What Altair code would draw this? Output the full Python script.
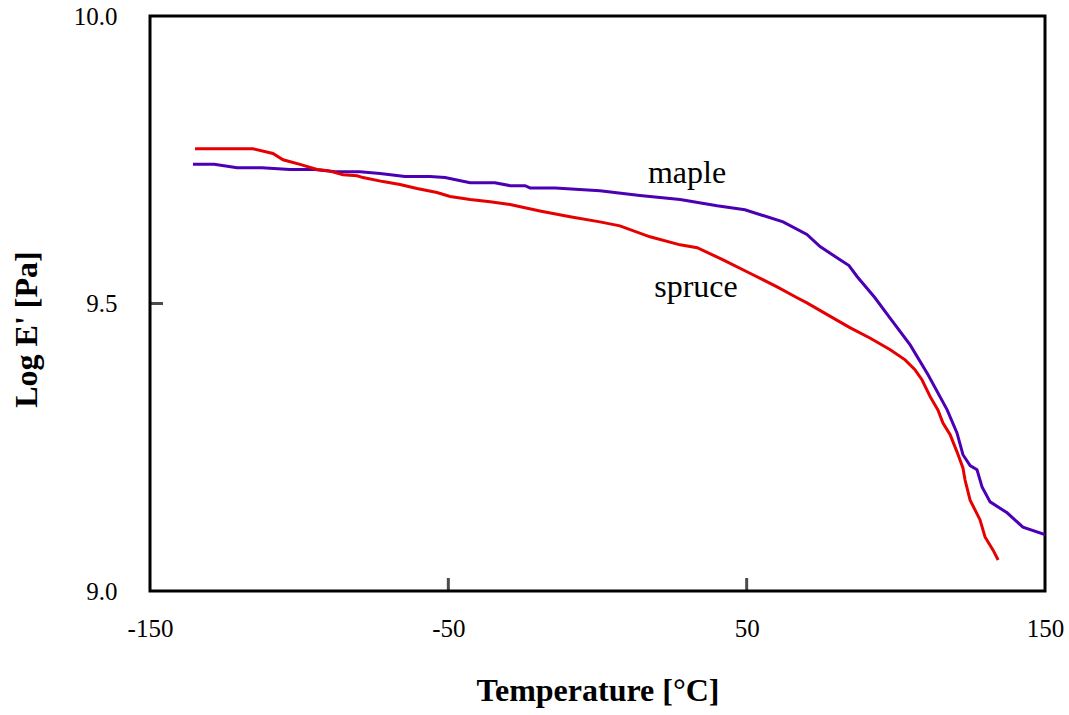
import altair as alt
import pandas as pd

# ---- data ----
maple_t = [-135.6, -128.5, -120.8, -112.5, -103.1, -94.7, -88.0, -79.6, -72.9, -64.5,
           -56.1, -51.1, -42.7, -34.4, -29.3, -24.3, -22.6, -14.2, 0.8, 14.2,
           27.7, 40.1, 49.4, 62.2, 70.2, 74.6, 81.3, 84.3, 87.0, 93.0,
           98.0, 104.8, 110.8, 117.2, 120.5, 122.5, 124.9, 127.2, 128.9, 131.6,
           137.3, 142.6, 150.0]
maple_e = [9.742, 9.742, 9.736, 9.736, 9.733, 9.733, 9.729, 9.729, 9.726, 9.721,
           9.721, 9.719, 9.710, 9.710, 9.705, 9.705, 9.701, 9.701, 9.696, 9.688,
           9.681, 9.670, 9.663, 9.642, 9.620, 9.599, 9.576, 9.566, 9.547, 9.510,
           9.475, 9.428, 9.376, 9.315, 9.275, 9.237, 9.218, 9.211, 9.181, 9.155,
           9.136, 9.111, 9.098]

spruce_t = [-134.9, -115.5, -108.8, -105.4, -99.7, -94.0, -90.3, -85.3, -80.6, -78.6,
            -71.9, -66.2, -60.5, -53.8, -49.4, -42.7, -36.0, -29.3, -19.3, -9.2,
            0.8, 7.5, 17.6, 27.7, 33.4, 42.1, 52.1, 60.2, 66.9, 70.2,
            78.9, 84.6, 91.3, 98.0, 103.1, 106.4, 108.8, 111.5, 114.1, 115.8,
            118.2, 120.5, 122.5, 123.2, 124.9, 128.2, 129.9, 132.6, 134.3]
spruce_e = [9.769, 9.769, 9.761, 9.750, 9.742, 9.733, 9.731, 9.724, 9.722, 9.719,
            9.712, 9.707, 9.700, 9.693, 9.686, 9.681, 9.677, 9.672, 9.661, 9.651,
            9.642, 9.635, 9.616, 9.602, 9.597, 9.576, 9.550, 9.529, 9.510, 9.501,
            9.475, 9.458, 9.440, 9.420, 9.402, 9.385, 9.367, 9.338, 9.315, 9.292,
            9.272, 9.242, 9.214, 9.193, 9.158, 9.124, 9.094, 9.071, 9.054]

series_names = ["maple", "spruce"]
series_colors = ["#4B00B4", "#E60000"]

label_text = ["maple", "spruce"]
label_t = [16.9, 19.0]
label_e = [9.710, 9.512]

x_ticks = [-150, -50, 50, 150]
y_ticks = [9.0, 9.5, 10.0]
x_inner_ticks = [-50, 50]
y_inner_ticks = [9.5]

# ---- tables ----
df = pd.concat([
    pd.DataFrame({"t": maple_t, "e": maple_e, "s": "maple", "o": range(len(maple_t))}),
    pd.DataFrame({"t": spruce_t, "e": spruce_e, "s": "spruce", "o": range(len(spruce_t))}),
])
labels_df = pd.DataFrame({"t": label_t, "e": label_e, "txt": label_text})
xt_df = pd.DataFrame({"t": x_inner_ticks})
yt_df = pd.DataFrame({"e": y_inner_ticks})

FONT = "Liberation Serif"

xscale = alt.Scale(domain=[-150, 150], nice=False, zero=False)
yscale = alt.Scale(domain=[9.0, 10.0], nice=False, zero=False)

xaxis = alt.Axis(values=x_ticks, title="Temperature [°C]", domain=False, ticks=False,
                 grid=False, labelFont=FONT, labelFontSize=25, labelColor="black",
                 labelExpr="datum.value < 0 ? '-' + abs(datum.value) : '' + datum.value",
                 labelPadding=25, labelFlush=False, labelOverlap=False,
                 titleFont=FONT, titleFontSize=32, titleFontWeight="bold",
                 titleColor="black", titleY=109, titleBaseline="alphabetic")
yaxis = alt.Axis(values=y_ticks, format=".1f", title="Log E' [Pa]", domain=False,
                 ticks=False, grid=False, labelFont=FONT, labelFontSize=25,
                 labelColor="black", labelPadding=33, labelFlush=False,
                 labelOverlap=False, titleFont=FONT, titleFontSize=32,
                 titleFontWeight="bold", titleColor="black", titleX=-114,
                 titleY=313, titleAngle=-90, titleAlign="center",
                 titleBaseline="alphabetic")

lines = alt.Chart(df).mark_line(strokeWidth=3, clip=True).encode(
    x=alt.X("t:Q", scale=xscale, axis=xaxis),
    y=alt.Y("e:Q", scale=yscale, axis=yaxis),
    color=alt.Color("s:N", scale=alt.Scale(domain=series_names, range=series_colors),
                    legend=None),
    order="o:Q",
)

xticks_layer = alt.Chart(xt_df).mark_tick(orient="vertical", size=26, thickness=3,
                                          color="black", clip=True).encode(
    x=alt.X("t:Q", scale=xscale),
    y=alt.datum(9.0),
)
yticks_layer = alt.Chart(yt_df).mark_tick(orient="horizontal", size=26, thickness=3,
                                          color="black", clip=True).encode(
    x=alt.datum(-150),
    y=alt.Y("e:Q", scale=yscale),
)

texts = alt.Chart(labels_df).mark_text(font=FONT, fontSize=32, align="left",
                                       baseline="alphabetic", color="black").encode(
    x=alt.X("t:Q", scale=xscale),
    y=alt.Y("e:Q", scale=yscale),
    text="txt:N",
)

chart = alt.layer(lines, xticks_layer, yticks_layer, texts).properties(
    width=895, height=575,
    autosize=alt.AutoSizeParams(type="none"),
    padding={"left": 150, "top": 16, "right": 24, "bottom": 124},
    background="white",
).configure_view(stroke="black", strokeWidth=3)

chart.save("out.html", embed_options={"renderer": "svg", "actions": False})
